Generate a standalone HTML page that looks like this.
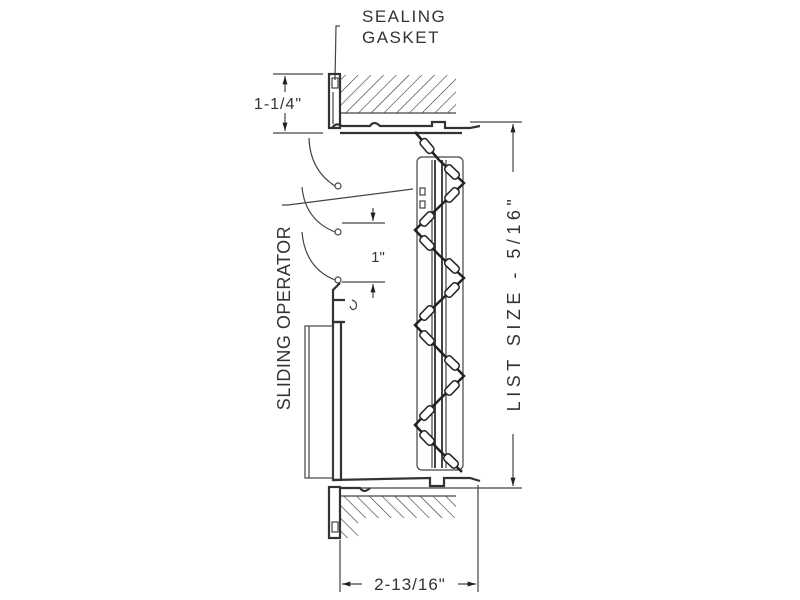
<!DOCTYPE html>
<html><head><meta charset="utf-8"><style>
html,body{margin:0;padding:0;background:#fff;}
svg{display:block;}
text{font-family:"Liberation Sans",sans-serif;fill:#333;}
</style></head><body>
<svg width="800" height="600" viewBox="0 0 800 600" xmlns="http://www.w3.org/2000/svg">
<defs>
<pattern id="h" width="9" height="9" patternUnits="userSpaceOnUse" patternTransform="rotate(45)">
<line x1="0" y1="0" x2="0" y2="9" stroke="#333" stroke-width="1.2"/>
</pattern>
<pattern id="h2" width="9" height="9" patternUnits="userSpaceOnUse" patternTransform="rotate(-45)">
<line x1="0" y1="0" x2="0" y2="9" stroke="#333" stroke-width="1.2"/>
</pattern>
<marker id="a" viewBox="0 0 10 10" refX="10" refY="5" markerWidth="7" markerHeight="7" orient="auto-start-reverse"><path d="M0,2 L10,5 L0,8z" fill="#222"/></marker>
</defs>
<g stroke="#444" fill="none" stroke-width="1.2">
<polyline points="340,26 336,26 335,80"/>
<rect x="341" y="75" width="115" height="38" fill="url(#h)" stroke="none"/>
<line x1="341" y1="113" x2="456" y2="113"/>
<rect x="329" y="74" width="11" height="54" stroke-width="2.2" stroke="#333"/>
<rect x="332" y="78" width="6" height="10"/>
<line x1="333" y1="92" x2="333" y2="124"/>
<path d="M332,128 Q336,122 342,126 L370,126 Q374,120 380,126 L432,126 L432,122 L445,122 L445,128 L470,128 L480,126" stroke-width="2.2" stroke="#333"/>
<line x1="340" y1="133" x2="462" y2="133" stroke-width="2.2" stroke="#333"/>
<line x1="273" y1="74" x2="323" y2="74"/>
<line x1="273" y1="133" x2="323" y2="133"/>
<line x1="285" y1="92" x2="285" y2="76" marker-end="url(#a)"/>
<line x1="285" y1="113" x2="285" y2="131" marker-end="url(#a)"/>
<line x1="470" y1="122" x2="522" y2="122"/>
<line x1="340" y1="488" x2="522" y2="488"/>
<line x1="513" y1="172" x2="513" y2="124" marker-end="url(#a)"/>
<line x1="513" y1="434" x2="513" y2="486" marker-end="url(#a)"/>
<path d="M309,138 Q310,170 335,186"/><circle cx="338" cy="186" r="3"/>
<path d="M302,187 Q305,220 335,232"/><circle cx="338" cy="232" r="3"/>
<path d="M302,232 Q305,268 335,280"/><circle cx="338" cy="280" r="3"/>
<line x1="342" y1="223" x2="385" y2="223"/>
<line x1="342" y1="282" x2="385" y2="282"/>
<line x1="373" y1="208" x2="373" y2="221" marker-end="url(#a)"/>
<line x1="373" y1="298" x2="373" y2="284" marker-end="url(#a)"/>
<polyline points="282,205 288,205 413,189" />
<path d="M340,283 L333,290 L333,300 L345,300 M333,300 L333,322 L345,322" stroke-width="2.2" stroke="#333"/>
<path d="M352,300 Q358,302 356,308 Q352,312 350,306" />
<rect x="333" y="322" width="8" height="158" stroke-width="2.2" stroke="#333"/>
<rect x="305" y="326" width="28" height="152"/>
<line x1="309" y1="326" x2="309" y2="478"/>
<path d="M333,480 L430,478 L430,486 L444,486 L444,478 L470,478 L480,481" stroke-width="2.2" stroke="#333"/>
<path d="M340,488 L360,488 Q364,494 370,488" stroke-width="2.2" stroke="#333"/>
<polygon points="341,496 456,496 456,518 358,518 358,538 341,538" fill="url(#h2)" stroke="none"/>
<line x1="341" y1="496" x2="456" y2="496"/>
<rect x="329" y="487" width="11" height="51" stroke-width="2.2" stroke="#333"/>
<rect x="332" y="522" width="6" height="10"/>
<line x1="340" y1="540" x2="340" y2="592"/>
<line x1="478" y1="485" x2="478" y2="592"/>
<line x1="362" y1="584" x2="342" y2="584" marker-end="url(#a)"/>
<line x1="458" y1="584" x2="476" y2="584" marker-end="url(#a)"/>
<rect x="417" y="157" width="46" height="313" rx="5"/>
<line x1="432" y1="160" x2="432" y2="468"/>
<line x1="435" y1="160" x2="435" y2="468" stroke-width="2"/>
<line x1="442" y1="160" x2="442" y2="468" stroke-width="2"/>
<line x1="446" y1="160" x2="446" y2="468"/>
<rect x="420" y="188" width="5" height="7"/><rect x="420" y="201" width="5" height="7"/>
<polyline points="415,132 439,160 464,183 439,207 415,230 439,255 464,278 439,302 415,325 439,350 464,376 439,400 415,425 439,450 462,472" stroke="#222" stroke-width="2.5"/>
<g fill="#fff" stroke="#222" stroke-width="1.5">
<rect x="-4" y="-8" width="8" height="16" rx="3" transform="translate(427,146) rotate(-40)"/>
<rect x="-4" y="-8" width="8" height="16" rx="3" transform="translate(452,172) rotate(-46)"/>
<rect x="-4" y="-8" width="8" height="16" rx="3" transform="translate(452,195) rotate(44)"/>
<rect x="-4" y="-8" width="8" height="16" rx="3" transform="translate(427,219) rotate(44)"/>
<rect x="-4" y="-8" width="8" height="16" rx="3" transform="translate(427,243) rotate(-44)"/>
<rect x="-4" y="-8" width="8" height="16" rx="3" transform="translate(452,266) rotate(-46)"/>
<rect x="-4" y="-8" width="8" height="16" rx="3" transform="translate(452,290) rotate(44)"/>
<rect x="-4" y="-8" width="8" height="16" rx="3" transform="translate(427,313) rotate(44)"/>
<rect x="-4" y="-8" width="8" height="16" rx="3" transform="translate(427,338) rotate(-44)"/>
<rect x="-4" y="-8" width="8" height="16" rx="3" transform="translate(452,363) rotate(-46)"/>
<rect x="-4" y="-8" width="8" height="16" rx="3" transform="translate(452,388) rotate(44)"/>
<rect x="-4" y="-8" width="8" height="16" rx="3" transform="translate(427,413) rotate(44)"/>
<rect x="-4" y="-8" width="8" height="16" rx="3" transform="translate(427,438) rotate(-44)"/>
<rect x="-4" y="-8" width="8" height="16" rx="3" transform="translate(451,461) rotate(-46)"/>
</g>
</g>
<text x="362" y="22" font-size="17" letter-spacing="1.5">SEALING</text>
<text x="362" y="43" font-size="17" letter-spacing="1.5">GASKET</text>
<text x="278" y="109" font-size="16" text-anchor="middle" letter-spacing="1">1-1/4"</text>
<text x="378" y="262" font-size="15" text-anchor="middle">1"</text>
<text x="410" y="590" font-size="17" text-anchor="middle" letter-spacing="1">2-13/16"</text>
<text transform="translate(520,303) rotate(-90)" font-size="18" text-anchor="middle" letter-spacing="4.5">LIST SIZE  -  5/16"</text>
<text transform="translate(290,318) rotate(-90)" font-size="18" text-anchor="middle" letter-spacing="0.5">SLIDING OPERATOR</text>
</svg>
</body></html>
